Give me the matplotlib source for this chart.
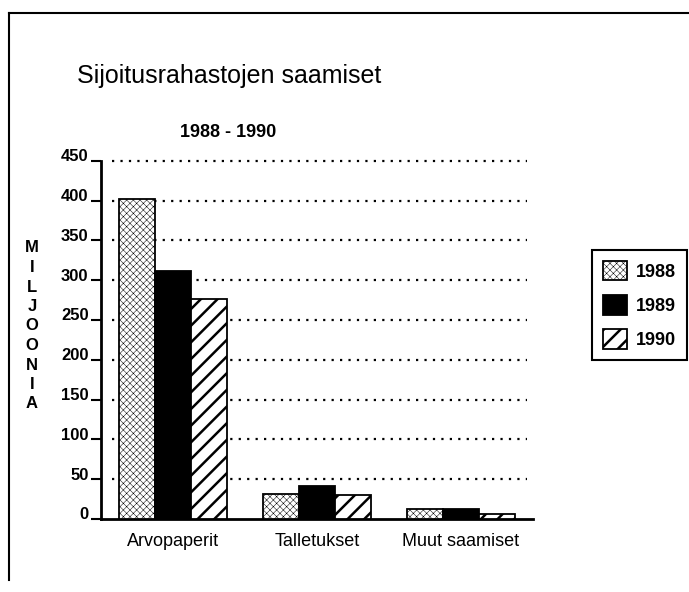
import numpy as np
import matplotlib
matplotlib.use("Agg")
import matplotlib.pyplot as plt
from matplotlib.lines import Line2D
from matplotlib.transforms import ScaledTranslation

plt.rcParams['font.family'] = ['Liberation Sans', 'DejaVu Sans']

# tiedot
categories = ['Arvopaperit', 'Talletukset', 'Muut saamiset']
years = ['1988', '1989', '1990']
v1988 = [402, 32, 13]
v1989 = [312, 42, 13]
v1990 = [277, 30, 6]
yticks = [0, 50, 100, 150, 200, 250, 300, 350, 400, 450]
ylabel_letters = list('MILJOONIA')

fig = plt.figure(figsize=(6.89, 5.92), dpi=100)
ax = fig.add_axes([0.1466, 0.1233, 0.627, 0.605])

x = np.arange(len(categories))
w = 0.25
plt.rcParams['hatch.linewidth'] = 0.35
b1 = ax.bar(x - w, v1988, w, facecolor='white', edgecolor='black',
            linewidth=1.3, hatch='xxxxx', label=years[0], zorder=3)
b2 = ax.bar(x, v1989, w, facecolor='black', edgecolor='black',
            linewidth=1.3, label=years[1], zorder=3)
plt.rcParams['hatch.linewidth'] = 1.8
b3 = ax.bar(x + w, v1990, w, facecolor='white', edgecolor='black',
            linewidth=1.3, hatch='//', label=years[2], zorder=3)
for p in b1:
    p._hatch_linewidth = 0.35

ax.set_xlim(-0.5, 2.5)
ax.set_ylim(0, 450)
ax.set_yticks(yticks)
ax.set_xticks(x)
ax.set_xticklabels(categories, fontsize=13)
ax.tick_params(axis='x', length=0, pad=10)
ax.tick_params(axis='y', direction='out', length=7, width=1.5, pad=2,
               labelsize=12)
for lab in ax.get_yticklabels():
    lab.set_fontweight('bold')
    lab.set_transform(lab.get_transform() +
                      ScaledTranslation(0, 4 / 72, fig.dpi_scale_trans))

for s in ['top', 'right']:
    ax.spines[s].set_visible(False)
ax.spines['left'].set_linewidth(2)
ax.spines['bottom'].set_linewidth(2)

# pisteviivat
for t in yticks[1:]:
    ax.axhline(t, xmin=0.025, xmax=0.985, color='black', linewidth=1.6,
               linestyle=(0, (1, 2.8)), zorder=1, clip_on=False)

fig.text(0.332, 0.872, 'Sijoitusrahastojen saamiset', ha='center',
         va='center', fontsize=18)
fig.text(0.331, 0.777, '1988 - 1990', ha='center', va='center',
         fontsize=13, fontweight='bold')

for i, ch in enumerate(ylabel_letters):
    fig.text(32 / 689, 1 - (248 + i * 19.5) / 592, ch, ha='center',
             va='center', fontsize=12, fontweight='bold')

leg = fig.legend(handles=[b1, b2, b3], labels=years, loc='upper left',
                 bbox_to_anchor=(592 / 689, 1 - 250 / 592),
                 borderaxespad=0, fancybox=False, framealpha=1,
                 edgecolor='black', fontsize=13, handlelength=1.33,
                 handleheight=1.28, handletextpad=0.5, labelspacing=0.8,
                 borderpad=0.6)
leg.get_frame().set_linewidth(1.5)
leg.legend_handles[0]._hatch_linewidth = 0.35
leg.legend_handles[2]._hatch_linewidth = 1.8
for t in leg.get_texts():
    t.set_fontweight('bold')

# kehys
fig.add_artist(Line2D([9 / 689, 9 / 689], [1 - 13 / 592, 0.02],
                      color='black', linewidth=1.5))
fig.add_artist(Line2D([9 / 689, 1.0], [1 - 13 / 592, 1 - 13 / 592],
                      color='black', linewidth=1.5))

fig.savefig('out.png', dpi=100)
